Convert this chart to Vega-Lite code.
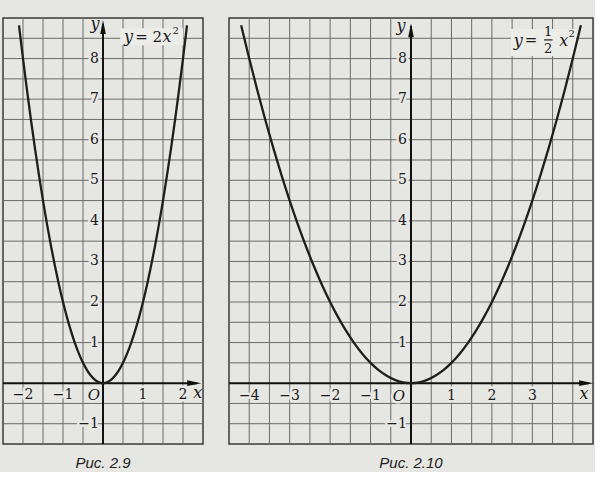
{
  "$schema": "https://vega.github.io/schema/vega-lite/v6.json",
  "background": "#e6e6e2",
  "padding": {"left": 1, "top": 15, "right": 0, "bottom": 0},
  "autosize": {"type": "pad"},
  "spacing": 22,
  "config": {
    "view": {"stroke": "#3a3a3a", "strokeWidth": 1.5},
    "axis": {"disable": true, "minExtent": 0, "maxExtent": 0, "labels": false, "ticks": false, "domain": false, "title": null, "grid": false},
    "title": {"orient": "bottom", "font": "Liberation Sans", "fontStyle": "italic", "fontSize": 15, "fontWeight": "normal", "color": "#222222", "offset": 11, "anchor": "middle"},
    "text": {"font": "DejaVu Serif", "fontSize": 14, "color": "#1a1a1a"}
  },
  "datasets": {
    "curveA": [
      {"x": -2.1, "y": 8.82}, {"x": -2.0, "y": 8}, {"x": -1.9, "y": 7.22}, {"x": -1.8, "y": 6.48}, {"x": -1.7, "y": 5.78},
      {"x": -1.6, "y": 5.12}, {"x": -1.5, "y": 4.5}, {"x": -1.4, "y": 3.92}, {"x": -1.3, "y": 3.38}, {"x": -1.2, "y": 2.88},
      {"x": -1.1, "y": 2.42}, {"x": -1.0, "y": 2}, {"x": -0.9, "y": 1.62}, {"x": -0.8, "y": 1.28}, {"x": -0.7, "y": 0.98},
      {"x": -0.6, "y": 0.72}, {"x": -0.5, "y": 0.5}, {"x": -0.4, "y": 0.32}, {"x": -0.3, "y": 0.18}, {"x": -0.2, "y": 0.08},
      {"x": -0.1, "y": 0.02}, {"x": 0, "y": 0}, {"x": 0.1, "y": 0.02}, {"x": 0.2, "y": 0.08}, {"x": 0.3, "y": 0.18},
      {"x": 0.4, "y": 0.32}, {"x": 0.5, "y": 0.5}, {"x": 0.6, "y": 0.72}, {"x": 0.7, "y": 0.98}, {"x": 0.8, "y": 1.28},
      {"x": 0.9, "y": 1.62}, {"x": 1.0, "y": 2}, {"x": 1.1, "y": 2.42}, {"x": 1.2, "y": 2.88}, {"x": 1.3, "y": 3.38},
      {"x": 1.4, "y": 3.92}, {"x": 1.5, "y": 4.5}, {"x": 1.6, "y": 5.12}, {"x": 1.7, "y": 5.78}, {"x": 1.8, "y": 6.48},
      {"x": 1.9, "y": 7.22}, {"x": 2.0, "y": 8}, {"x": 2.1, "y": 8.82}
    ],
    "curveB": [
      {"x": -4.2, "y": 8.82}, {"x": -4.0, "y": 8}, {"x": -3.8, "y": 7.22}, {"x": -3.6, "y": 6.48}, {"x": -3.4, "y": 5.78},
      {"x": -3.2, "y": 5.12}, {"x": -3.0, "y": 4.5}, {"x": -2.8, "y": 3.92}, {"x": -2.6, "y": 3.38}, {"x": -2.4, "y": 2.88},
      {"x": -2.2, "y": 2.42}, {"x": -2.0, "y": 2}, {"x": -1.8, "y": 1.62}, {"x": -1.6, "y": 1.28}, {"x": -1.4, "y": 0.98},
      {"x": -1.2, "y": 0.72}, {"x": -1.0, "y": 0.5}, {"x": -0.8, "y": 0.32}, {"x": -0.6, "y": 0.18}, {"x": -0.4, "y": 0.08},
      {"x": -0.2, "y": 0.02}, {"x": 0, "y": 0}, {"x": 0.2, "y": 0.02}, {"x": 0.4, "y": 0.08}, {"x": 0.6, "y": 0.18},
      {"x": 0.8, "y": 0.32}, {"x": 1.0, "y": 0.5}, {"x": 1.2, "y": 0.72}, {"x": 1.4, "y": 0.98}, {"x": 1.6, "y": 1.28},
      {"x": 1.8, "y": 1.62}, {"x": 2.0, "y": 2}, {"x": 2.2, "y": 2.42}, {"x": 2.4, "y": 2.88}, {"x": 2.6, "y": 3.38},
      {"x": 2.8, "y": 3.92}, {"x": 3.0, "y": 4.5}, {"x": 3.2, "y": 5.12}, {"x": 3.4, "y": 5.78}, {"x": 3.6, "y": 6.48},
      {"x": 3.8, "y": 7.22}, {"x": 4.0, "y": 8}, {"x": 4.2, "y": 8.82}
    ],
    "gridXA": [{"g": -2}, {"g": -1.5}, {"g": -1}, {"g": -0.5}, {"g": 0.5}, {"g": 1}, {"g": 1.5}, {"g": 2}],
    "gridXB": [{"g": -4}, {"g": -3.5}, {"g": -3}, {"g": -2.5}, {"g": -2}, {"g": -1.5}, {"g": -1}, {"g": -0.5}, {"g": 0.5}, {"g": 1}, {"g": 1.5}, {"g": 2}, {"g": 2.5}, {"g": 3}, {"g": 3.5}, {"g": 4}],
    "gridY": [{"g": -1}, {"g": -0.5}, {"g": 0.5}, {"g": 1}, {"g": 1.5}, {"g": 2}, {"g": 2.5}, {"g": 3}, {"g": 3.5}, {"g": 4}, {"g": 4.5}, {"g": 5}, {"g": 5.5}, {"g": 6}, {"g": 6.5}, {"g": 7}, {"g": 7.5}, {"g": 8}, {"g": 8.5}],
    "xlabA": [{"x": -2, "t": "−2"}, {"x": -1, "t": "−1"}, {"x": 1, "t": "1"}, {"x": 2, "t": "2"}],
    "xlabB": [{"x": -4, "t": "−4"}, {"x": -3, "t": "−3"}, {"x": -2, "t": "−2"}, {"x": -1, "t": "−1"}, {"x": 1, "t": "1"}, {"x": 2, "t": "2"}, {"x": 3, "t": "3"}],
    "ylab": [{"y": -1, "t": "−1"}, {"y": 1, "t": "1"}, {"y": 2, "t": "2"}, {"y": 3, "t": "3"}, {"y": 4, "t": "4"}, {"y": 5, "t": "5"}, {"y": 6, "t": "6"}, {"y": 7, "t": "7"}, {"y": 8, "t": "8"}]
  },
  "hconcat": [
    {
      "width": 200,
      "height": 426,
      "title": "Рис. 2.9",
      "layer": [
        {
          "data": {"name": "gridXA"},
          "mark": {"type": "rule", "color": "#6a6a6a", "strokeWidth": 1},
          "encoding": {
            "x": {"field": "g", "type": "quantitative", "scale": {"domain": [-2.5, 2.5], "nice": false, "zero": false}, "axis": null},
            "y": {"datum": -1.5, "type": "quantitative", "scale": {"domain": [-1.5, 9], "nice": false, "zero": false}, "axis": null},
            "y2": {"datum": 9}
          }
        },
        {
          "data": {"name": "gridY"},
          "mark": {"type": "rule", "color": "#6a6a6a", "strokeWidth": 1},
          "encoding": {"y": {"field": "g", "type": "quantitative", "axis": null}, "x": {"datum": -2.5}, "x2": {"datum": 2.5}}
        },
        {
          "data": {"values": [{}]},
          "mark": {"type": "rect", "color": "#ecece9"},
          "encoding": {"x": {"datum": 0.43}, "x2": {"datum": 2.0}, "y": {"datum": 8.33}, "y2": {"datum": 8.75}}
        },
        {
          "data": {"name": "xlabA"},
          "mark": {"type": "text", "align": "center", "baseline": "middle", "dy": 12, "color": "#e8e8e5", "stroke": "#e8e8e5", "strokeWidth": 5, "strokeJoin": "round"},
          "encoding": {"x": {"field": "x", "type": "quantitative", "axis": null}, "y": {"datum": 0}, "text": {"field": "t"}}
        },
        {
          "data": {"name": "ylab"},
          "mark": {"type": "text", "align": "right", "baseline": "middle", "dx": -4, "color": "#e8e8e5", "stroke": "#e8e8e5", "strokeWidth": 5, "strokeJoin": "round"},
          "encoding": {"x": {"datum": 0}, "y": {"field": "y", "type": "quantitative", "axis": null}, "text": {"field": "t"}}
        },
        {
          "data": {"values": [{}]},
          "mark": {"type": "text", "text": "O", "fontStyle": "italic", "align": "center", "baseline": "middle", "dx": -9, "dy": 12, "fontSize": 15, "color": "#e8e8e5", "stroke": "#e8e8e5", "strokeWidth": 5, "strokeJoin": "round"},
          "encoding": {"x": {"datum": 0}, "y": {"datum": 0}}
        },
        {
          "data": {"values": [{}]},
          "mark": {"type": "rule", "color": "#111111", "strokeWidth": 2},
          "encoding": {"x": {"datum": 0}, "y": {"datum": -1.5}, "y2": {"datum": 8.85}}
        },
        {
          "data": {"values": [{}]},
          "mark": {"type": "rule", "color": "#111111", "strokeWidth": 2},
          "encoding": {"x": {"datum": -2.5}, "x2": {"datum": 2.35}, "y": {"datum": 0}}
        },
        {
          "data": {"values": [{}]},
          "mark": {"type": "point", "shape": "M 1 0 L -1 -0.4 L -1 0.4 Z", "filled": true, "color": "#111111", "size": 196, "opacity": 1},
          "encoding": {"x": {"datum": 2.28}, "y": {"datum": 0}}
        },
        {
          "data": {"values": [{}]},
          "mark": {"type": "point", "shape": "M 0 -1 L 0.4 1 L -0.4 1 Z", "filled": true, "color": "#111111", "size": 196, "opacity": 1},
          "encoding": {"x": {"datum": 0}, "y": {"datum": 8.78}}
        },
        {
          "data": {"name": "curveA"},
          "mark": {"type": "line", "color": "#1e1e1e", "strokeWidth": 2.3, "interpolate": "monotone", "clip": true},
          "encoding": {"x": {"field": "x", "type": "quantitative", "axis": null}, "y": {"field": "y", "type": "quantitative", "axis": null}}
        },
        {
          "data": {"name": "xlabA"},
          "mark": {"type": "text", "align": "center", "baseline": "middle", "dy": 12},
          "encoding": {"x": {"field": "x", "type": "quantitative", "axis": null}, "y": {"datum": 0}, "text": {"field": "t"}}
        },
        {
          "data": {"name": "ylab"},
          "mark": {"type": "text", "align": "right", "baseline": "middle", "dx": -4},
          "encoding": {"x": {"datum": 0}, "y": {"field": "y", "type": "quantitative", "axis": null}, "text": {"field": "t"}}
        },
        {
          "data": {"values": [{}]},
          "mark": {"type": "text", "text": "O", "fontStyle": "italic", "align": "center", "baseline": "middle", "dx": -9, "dy": 12, "fontSize": 15},
          "encoding": {"x": {"datum": 0}, "y": {"datum": 0}}
        },
        {
          "data": {"values": [{}]},
          "mark": {"type": "text", "text": "x", "fontStyle": "italic", "align": "center", "baseline": "middle", "fontSize": 16},
          "encoding": {"x": {"datum": 2.37}, "y": {"datum": -0.25}}
        },
        {
          "data": {"values": [{}]},
          "mark": {"type": "text", "text": "y", "fontStyle": "italic", "align": "center", "baseline": "middle", "dx": -8, "fontSize": 16},
          "encoding": {"x": {"datum": 0}, "y": {"datum": 8.85}}
        },
        {
          "data": {"values": [{}]},
          "mark": {"type": "text", "text": "y", "fontStyle": "italic", "align": "center", "baseline": "middle", "fontSize": 16},
          "encoding": {"x": {"datum": 0.64}, "y": {"datum": 8.53}}
        },
        {
          "data": {"values": [{}]},
          "mark": {"type": "text", "text": "= 2", "align": "center", "baseline": "middle", "fontSize": 15},
          "encoding": {"x": {"datum": 1.14}, "y": {"datum": 8.53}}
        },
        {
          "data": {"values": [{}]},
          "mark": {"type": "text", "text": "x", "fontStyle": "italic", "align": "center", "baseline": "middle", "fontSize": 16},
          "encoding": {"x": {"datum": 1.6}, "y": {"datum": 8.53}}
        },
        {
          "data": {"values": [{}]},
          "mark": {"type": "text", "text": "2", "align": "center", "baseline": "middle", "fontSize": 10},
          "encoding": {"x": {"datum": 1.82}, "y": {"datum": 8.68}}
        }
      ]
    },
    {
      "width": 364,
      "height": 426,
      "title": "Рис. 2.10",
      "layer": [
        {
          "data": {"name": "gridXB"},
          "mark": {"type": "rule", "color": "#6a6a6a", "strokeWidth": 1},
          "encoding": {
            "x": {"field": "g", "type": "quantitative", "scale": {"domain": [-4.5, 4.5], "nice": false, "zero": false}, "axis": null},
            "y": {"datum": -1.5, "type": "quantitative", "scale": {"domain": [-1.5, 9], "nice": false, "zero": false}, "axis": null},
            "y2": {"datum": 9}
          }
        },
        {
          "data": {"name": "gridY"},
          "mark": {"type": "rule", "color": "#6a6a6a", "strokeWidth": 1},
          "encoding": {"y": {"field": "g", "type": "quantitative", "axis": null}, "x": {"datum": -4.5}, "x2": {"datum": 4.5}}
        },
        {
          "data": {"values": [{}]},
          "mark": {"type": "rect", "color": "#ecece9"},
          "encoding": {"x": {"datum": 2.47}, "x2": {"datum": 4.08}, "y": {"datum": 8.06}, "y2": {"datum": 8.73}}
        },
        {
          "data": {"name": "xlabB"},
          "mark": {"type": "text", "align": "center", "baseline": "middle", "dy": 13, "color": "#e8e8e5", "stroke": "#e8e8e5", "strokeWidth": 5, "strokeJoin": "round"},
          "encoding": {"x": {"field": "x", "type": "quantitative", "axis": null}, "y": {"datum": 0}, "text": {"field": "t"}}
        },
        {
          "data": {"name": "ylab"},
          "mark": {"type": "text", "align": "right", "baseline": "middle", "dx": -4, "color": "#e8e8e5", "stroke": "#e8e8e5", "strokeWidth": 5, "strokeJoin": "round"},
          "encoding": {"x": {"datum": 0}, "y": {"field": "y", "type": "quantitative", "axis": null}, "text": {"field": "t"}}
        },
        {
          "data": {"values": [{}]},
          "mark": {"type": "text", "text": "O", "fontStyle": "italic", "align": "center", "baseline": "middle", "dx": -12, "dy": 13, "fontSize": 15, "color": "#e8e8e5", "stroke": "#e8e8e5", "strokeWidth": 5, "strokeJoin": "round"},
          "encoding": {"x": {"datum": 0}, "y": {"datum": 0}}
        },
        {
          "data": {"values": [{}]},
          "mark": {"type": "rule", "color": "#111111", "strokeWidth": 2},
          "encoding": {"x": {"datum": 0}, "y": {"datum": -1.5}, "y2": {"datum": 8.8}}
        },
        {
          "data": {"values": [{}]},
          "mark": {"type": "rule", "color": "#111111", "strokeWidth": 2},
          "encoding": {"x": {"datum": -4.5}, "x2": {"datum": 4.4}, "y": {"datum": 0}}
        },
        {
          "data": {"values": [{}]},
          "mark": {"type": "point", "shape": "M 1 0 L -1 -0.4 L -1 0.4 Z", "filled": true, "color": "#111111", "size": 196, "opacity": 1},
          "encoding": {"x": {"datum": 4.33}, "y": {"datum": 0}}
        },
        {
          "data": {"values": [{}]},
          "mark": {"type": "point", "shape": "M 0 -1 L 0.4 1 L -0.4 1 Z", "filled": true, "color": "#111111", "size": 196, "opacity": 1},
          "encoding": {"x": {"datum": 0}, "y": {"datum": 8.7}}
        },
        {
          "data": {"name": "curveB"},
          "mark": {"type": "line", "color": "#1e1e1e", "strokeWidth": 2.3, "interpolate": "monotone", "clip": true},
          "encoding": {"x": {"field": "x", "type": "quantitative", "axis": null}, "y": {"field": "y", "type": "quantitative", "axis": null}}
        },
        {
          "data": {"name": "xlabB"},
          "mark": {"type": "text", "align": "center", "baseline": "middle", "dy": 13},
          "encoding": {"x": {"field": "x", "type": "quantitative", "axis": null}, "y": {"datum": 0}, "text": {"field": "t"}}
        },
        {
          "data": {"name": "ylab"},
          "mark": {"type": "text", "align": "right", "baseline": "middle", "dx": -4},
          "encoding": {"x": {"datum": 0}, "y": {"field": "y", "type": "quantitative", "axis": null}, "text": {"field": "t"}}
        },
        {
          "data": {"values": [{}]},
          "mark": {"type": "text", "text": "O", "fontStyle": "italic", "align": "center", "baseline": "middle", "dx": -12, "dy": 13, "fontSize": 15},
          "encoding": {"x": {"datum": 0}, "y": {"datum": 0}}
        },
        {
          "data": {"values": [{}]},
          "mark": {"type": "text", "text": "x", "fontStyle": "italic", "align": "center", "baseline": "middle", "fontSize": 16},
          "encoding": {"x": {"datum": 4.28}, "y": {"datum": -0.27}}
        },
        {
          "data": {"values": [{}]},
          "mark": {"type": "text", "text": "y", "fontStyle": "italic", "align": "center", "baseline": "middle", "dx": -10, "fontSize": 16},
          "encoding": {"x": {"datum": 0}, "y": {"datum": 8.8}}
        },
        {
          "data": {"values": [{}]},
          "mark": {"type": "text", "text": "y", "fontStyle": "italic", "align": "center", "baseline": "middle", "fontSize": 16},
          "encoding": {"x": {"datum": 2.65}, "y": {"datum": 8.44}}
        },
        {
          "data": {"values": [{}]},
          "mark": {"type": "text", "text": "=", "align": "center", "baseline": "middle", "fontSize": 15},
          "encoding": {"x": {"datum": 2.97}, "y": {"datum": 8.46}}
        },
        {
          "data": {"values": [{}]},
          "mark": {"type": "text", "text": "1", "align": "center", "baseline": "middle", "fontSize": 13},
          "encoding": {"x": {"datum": 3.39}, "y": {"datum": 8.65}}
        },
        {
          "data": {"values": [{}]},
          "mark": {"type": "rule", "color": "#1a1a1a", "strokeWidth": 1.2},
          "encoding": {"x": {"datum": 3.29}, "x2": {"datum": 3.5}, "y": {"datum": 8.46}}
        },
        {
          "data": {"values": [{}]},
          "mark": {"type": "text", "text": "2", "align": "center", "baseline": "middle", "fontSize": 13},
          "encoding": {"x": {"datum": 3.39}, "y": {"datum": 8.23}}
        },
        {
          "data": {"values": [{}]},
          "mark": {"type": "text", "text": "x", "fontStyle": "italic", "align": "center", "baseline": "middle", "fontSize": 16},
          "encoding": {"x": {"datum": 3.78}, "y": {"datum": 8.44}}
        },
        {
          "data": {"values": [{}]},
          "mark": {"type": "text", "text": "2", "align": "center", "baseline": "middle", "fontSize": 10},
          "encoding": {"x": {"datum": 3.97}, "y": {"datum": 8.6}}
        }
      ]
    }
  ]
}
